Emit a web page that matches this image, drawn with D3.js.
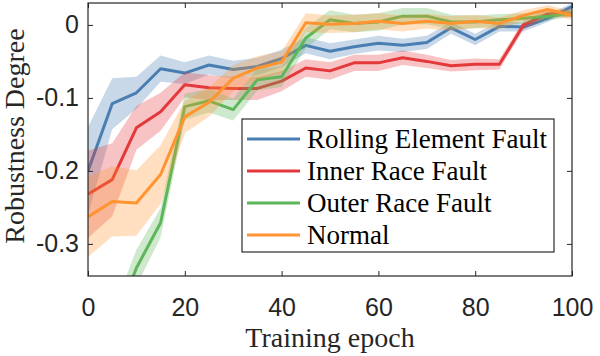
<!DOCTYPE html>
<html>
<head>
<meta charset="utf-8">
<script src="https://cdn.jsdelivr.net/npm/d3@7"></script>
<style>
  body { margin: 0; background: #fff; }
</style>
</head>
<body>
<svg></svg>
<script>
/**********************
* data *
**********************/
var epochs = [0, 5, 10, 15, 20, 25, 30, 35, 40, 45, 50, 55, 60, 65, 70, 75, 80, 85, 90, 95, 100]

var rolling_mean = [-0.200, -0.108, -0.093, -0.060, -0.066, -0.055, -0.061, -0.057, -0.046, -0.028, -0.036, -0.030, -0.025, -0.028, -0.024, -0.004, -0.020, -0.002, -0.003, 0.009, 0.025]
var rolling_std = [0.060, 0.035, 0.022, 0.018, 0.015, 0.013, 0.012, 0.012, 0.012, 0.011, 0.011, 0.010, 0.010, 0.009, 0.009, 0.008, 0.008, 0.007, 0.006, 0.005, 0.005]

var inner_mean = [-0.232, -0.212, -0.141, -0.119, -0.082, -0.086, -0.087, -0.087, -0.077, -0.059, -0.063, -0.052, -0.052, -0.045, -0.050, -0.056, -0.054, -0.054, 0.000, 0.015, 0.016]
var inner_std = [0.060, 0.050, 0.030, 0.026, 0.017, 0.017, 0.016, 0.016, 0.014, 0.012, 0.012, 0.011, 0.011, 0.010, 0.009, 0.008, 0.008, 0.007, 0.006, 0.005, 0.005]

var outer_mean = [-0.520, -0.420, -0.333, -0.271, -0.112, -0.104, -0.116, -0.075, -0.071, -0.018, 0.007, 0.002, 0.004, 0.012, 0.012, 0.004, 0.004, 0.007, 0.009, 0.012, 0.016]
var outer_std = [0.025, 0.025, 0.025, 0.020, 0.018, 0.016, 0.015, 0.015, 0.014, 0.014, 0.013, 0.012, 0.012, 0.011, 0.011, 0.010, 0.009, 0.008, 0.007, 0.006, 0.005]

var normal_mean = [-0.263, -0.242, -0.244, -0.205, -0.126, -0.106, -0.073, -0.059, -0.051, 0.003, 0.001, 0.002, 0.005, 0.002, 0.005, 0.002, 0.005, 0.002, 0.013, 0.021, 0.013]
var normal_std = [0.055, 0.048, 0.045, 0.040, 0.022, 0.020, 0.018, 0.016, 0.015, 0.013, 0.012, 0.012, 0.011, 0.011, 0.010, 0.010, 0.009, 0.008, 0.007, 0.006, 0.006]

var series_names = ["Rolling Element Fault", "Inner Race Fault", "Outer Race Fault", "Normal"]
var series_colors = ["#4a7eb2", "#e4393b", "#5db659", "#ff9430"]

var x_ticks = [0, 20, 40, 60, 80, 100]
var y_ticks = [0, -0.1, -0.2, -0.3]
var y_tick_labels = ["0", "-0.1", "-0.2", "-0.3"]

/**********************
* layout *
**********************/
var width = 600
var height = 356
var plot_left = 88
var plot_right = 572
var plot_top = 3
var plot_bottom = 276
var tick_len = 5

var sans_font = "'Liberation Sans', Arial, sans-serif"
var serif_font = "'Liberation Serif', 'Times New Roman', serif"
var axis_color = "#262626"

var x = d3.scaleLinear().domain([0, 100]).range([plot_left, plot_right])
var y = d3.scaleLinear().domain([-0.344, 0.030]).range([plot_bottom, plot_top])

var svg = d3.select("svg")
    .attr("width", width)
    .attr("height", height)

/* build one row per point for each series */
function make_series(means, stds) {
    return epochs.map(function (e, i) {
        return { e: e, m: means[i], s: stds[i] }
    })
}

var all_series = [
    make_series(rolling_mean, rolling_std),
    make_series(inner_mean, inner_std),
    make_series(outer_mean, outer_std),
    make_series(normal_mean, normal_std)
]

/***************
* clip *
***************/
svg.append("defs")
    .append("clipPath")
    .attr("id", "plot_clip")
    .append("rect")
    .attr("x", plot_left)
    .attr("y", plot_top)
    .attr("width", plot_right - plot_left)
    .attr("height", plot_bottom - plot_top)

/***************
* bands and lines *
***************/
var band = d3.area()
    .x(function (d) { return x(d.e) })
    .y0(function (d) { return y(d.m - d.s) })
    .y1(function (d) { return y(d.m + d.s) })

var line = d3.line()
    .x(function (d) { return x(d.e) })
    .y(function (d) { return y(d.m) })

var c_plot = svg.append("g").attr("clip-path", "url(#plot_clip)")

all_series.forEach(function (data, k) {
    c_plot.append("path")
        .datum(data)
        .attr("d", band)
        .attr("fill", series_colors[k])
        .attr("fill-opacity", 0.3)
        .attr("stroke", "none")

    c_plot.append("path")
        .datum(data)
        .attr("d", line)
        .attr("fill", "none")
        .attr("stroke", series_colors[k])
        .attr("stroke-width", 3)
        .attr("stroke-linejoin", "round")
})

/***************
* axes *
***************/
var ax_bottom = svg.append("g")
    .attr("transform", "translate(0," + plot_bottom + ")")
    .call(d3.axisBottom(x).tickValues(x_ticks).tickSizeInner(-tick_len).tickSizeOuter(0).tickPadding(22))
var ax_top = svg.append("g")
    .attr("transform", "translate(0," + plot_top + ")")
    .call(d3.axisTop(x).tickValues(x_ticks).tickSizeInner(-tick_len).tickSizeOuter(0).tickFormat(""))
var ax_left = svg.append("g")
    .attr("transform", "translate(" + plot_left + ",0)")
    .call(d3.axisLeft(y).tickValues(y_ticks).tickSizeInner(-tick_len).tickSizeOuter(0).tickPadding(9)
        .tickFormat(function (d, i) { return y_tick_labels[i] }))
var ax_right = svg.append("g")
    .attr("transform", "translate(" + plot_right + ",0)")
    .call(d3.axisRight(y).tickValues(y_ticks).tickSizeInner(-tick_len).tickSizeOuter(0).tickFormat(""))

;[ax_bottom, ax_top, ax_left, ax_right].forEach(function (a) {
    a.attr("font-family", sans_font).attr("font-size", 25)
    a.select(".domain").remove()
    a.selectAll("line").attr("stroke", axis_color).attr("stroke-width", 1)
    a.selectAll("text").attr("fill", axis_color)
})

/* frame round the plot */
svg.append("rect")
    .attr("x", plot_left)
    .attr("y", plot_top)
    .attr("width", plot_right - plot_left)
    .attr("height", plot_bottom - plot_top)
    .attr("fill", "none")
    .attr("stroke", axis_color)
    .attr("stroke-width", 1.2)

/***************
* titles *
***************/
svg.append("text")
    .attr("x", (plot_left + plot_right) / 2)
    .attr("y", 347)
    .attr("text-anchor", "middle")
    .attr("font-family", serif_font)
    .attr("font-size", 28)
    .attr("fill", axis_color)
    .text("Training epoch")

svg.append("text")
    .attr("transform", "translate(24," + 136 + ") rotate(-90)")
    .attr("text-anchor", "middle")
    .attr("font-family", serif_font)
    .attr("font-size", 28)
    .attr("fill", axis_color)
    .text("Robustness Degree")

/***************
* legend *
***************/
var leg_x = 242
var leg_y = 119
var leg_row = 32

var c_legend = svg.append("g")

c_legend.append("rect")
    .attr("x", leg_x)
    .attr("y", leg_y)
    .attr("width", 312)
    .attr("height", 133)
    .attr("fill", "#fff")
    .attr("stroke", "#000")
    .attr("stroke-width", 1)

var leg_items = c_legend.selectAll("g.item")
    .data(series_names)
    .enter()
    .append("g")
    .attr("class", "item")
    .attr("transform", function (d, i) { return "translate(0," + (leg_y + 20 + i * leg_row) + ")" })

leg_items.append("line")
    .attr("x1", leg_x + 5)
    .attr("x2", leg_x + 58)
    .attr("y1", 0)
    .attr("y2", 0)
    .attr("stroke", function (d, i) { return series_colors[i] })
    .attr("stroke-width", 3)

leg_items.append("text")
    .attr("x", leg_x + 65)
    .attr("y", 0)
    .attr("dy", "0.34em")
    .attr("font-family", serif_font)
    .attr("font-size", 27)
    .attr("fill", "#000")
    .text(function (d) { return d })
</script>
</body>
</html>
